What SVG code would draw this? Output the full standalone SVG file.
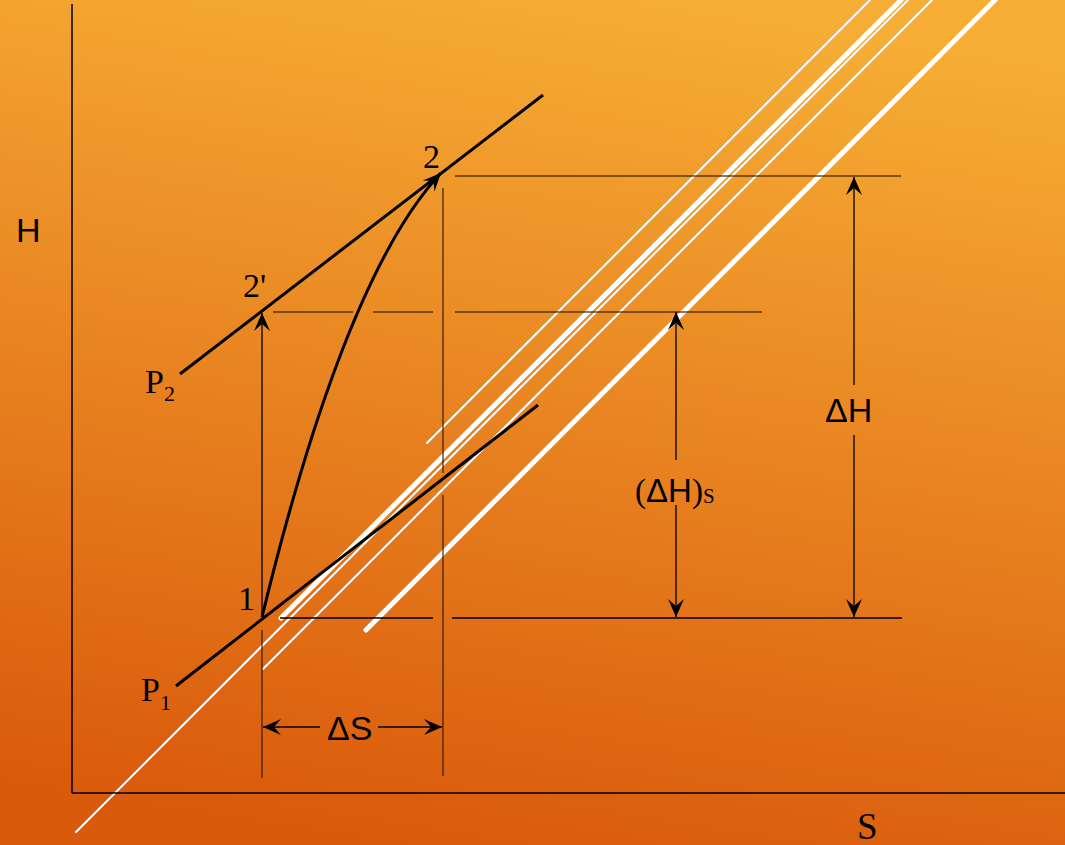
<svg xmlns="http://www.w3.org/2000/svg" width="1065" height="845" viewBox="0 0 1065 845">
<style>
.wt{stroke:#fff;stroke-width:2;fill:none;stroke-linecap:round}
.wk{stroke:#fff;stroke-width:5;fill:none;stroke-linecap:round}
.iso{stroke:#000;stroke-width:3;fill:none;stroke-linecap:butt}
.ext{stroke:#2a1500;stroke-opacity:0.75;stroke-width:1.5;fill:none}
.dim{stroke:#000;stroke-width:1.3;fill:none}
.ax{stroke:#000;stroke-width:1.5;fill:none}
.ser{font-family:"Liberation Serif","Times New Roman",serif;fill:#000}
.san{font-family:"Liberation Sans",Arial,sans-serif;fill:#000}
</style>
<defs>
<linearGradient id="bg" x1="0.6" y1="0" x2="0.4" y2="1">
<stop offset="0" stop-color="#F6AD35"/>
<stop offset="1" stop-color="#DA5A0C"/>
</linearGradient>
<marker id="ar" viewBox="-20 -10 22 20" refX="0" refY="0" markerWidth="22" markerHeight="20" markerUnits="userSpaceOnUse" orient="auto-start-reverse">
<path d="M0,0 L-18,-8 L-11,0 L-18,8 Z" fill="#000"/>
</marker>
</defs>
<rect width="1065" height="845" fill="url(#bg)"/>
<g id="decor">
<line class="wt" x1="870" y1="0" x2="427" y2="443"/>
<line class="wk" x1="901" y1="0" x2="281" y2="618"/>
<line class="wt" x1="908" y1="0" x2="76" y2="832"/>
<line class="wt" x1="932" y1="0" x2="263" y2="669"/>
<line class="wk" x1="995" y1="0" x2="366" y2="630"/>
</g>
<g id="axes">
<line class="ax" x1="72" y1="4" x2="72" y2="793"/>
<line class="ax" x1="72" y1="793" x2="1065" y2="793"/>
<text class="san" x="16" y="242" font-size="34">H</text>
<text class="ser" x="857" y="839" font-size="37">S</text>
</g>
<g id="connectors">
<line class="ext" x1="455" y1="176" x2="901" y2="176"/>
<line class="ext" x1="273" y1="312" x2="353" y2="312"/>
<line class="ext" x1="373" y1="312" x2="433" y2="312"/>
<line class="ext" x1="455" y1="312" x2="762" y2="312"/>
<line class="dim" x1="280" y1="618" x2="433" y2="618"/>
<line class="dim" x1="452" y1="618" x2="902" y2="618"/>
<line class="ext" x1="262" y1="630" x2="262" y2="778"/>
<line class="ext" x1="443" y1="188" x2="443" y2="473"/>
<line class="ext" x1="443" y1="495" x2="443" y2="776"/>
<line class="dim" x1="262" y1="617" x2="262" y2="313" marker-end="url(#ar)"/>
<line class="dim" x1="263" y1="727" x2="320" y2="727" marker-start="url(#ar)"/>
<line class="dim" x1="378" y1="727" x2="442" y2="727" marker-end="url(#ar)"/>
<line class="dim" x1="676" y1="460" x2="676" y2="312" marker-end="url(#ar)"/>
<line class="dim" x1="676" y1="505" x2="676" y2="617" marker-end="url(#ar)"/>
<line class="dim" x1="854" y1="385" x2="854" y2="177" marker-end="url(#ar)"/>
<line class="dim" x1="854" y1="435" x2="854" y2="617" marker-end="url(#ar)"/>
</g>
<g id="isobar-p2">
<line class="iso" x1="180" y1="374" x2="543" y2="95"/>
<text class="ser" x="145" y="393" font-size="34">P<tspan font-size="22" dy="8">2</tspan></text>
</g>
<g id="isobar-p1">
<line class="iso" x1="176" y1="686" x2="538" y2="405"/>
<text class="ser" x="141" y="701" font-size="34">P<tspan font-size="22" dy="9">1</tspan></text>
</g>
<g id="process">
<path class="iso" d="M262,617 Q345,275 441,173" marker-end="url(#ar)"/>
</g>
<g id="point-1"><text class="ser" x="238" y="610" font-size="34">1</text></g>
<g id="point-2"><text class="ser" x="423" y="168" font-size="34">2</text></g>
<g id="point-2p"><text class="ser" x="243" y="297" font-size="34">2'</text></g>
<g id="label-ds"><text class="san" x="327" y="740" font-size="34">ΔS</text></g>
<g id="label-dhs"><text class="ser" x="635" y="502" font-size="33">(<tspan class="san">ΔH</tspan>)<tspan font-size="21" dy="1">S</tspan></text></g>
<g id="label-dh"><text class="san" x="825" y="422" font-size="34">ΔH</text></g>
</svg>
